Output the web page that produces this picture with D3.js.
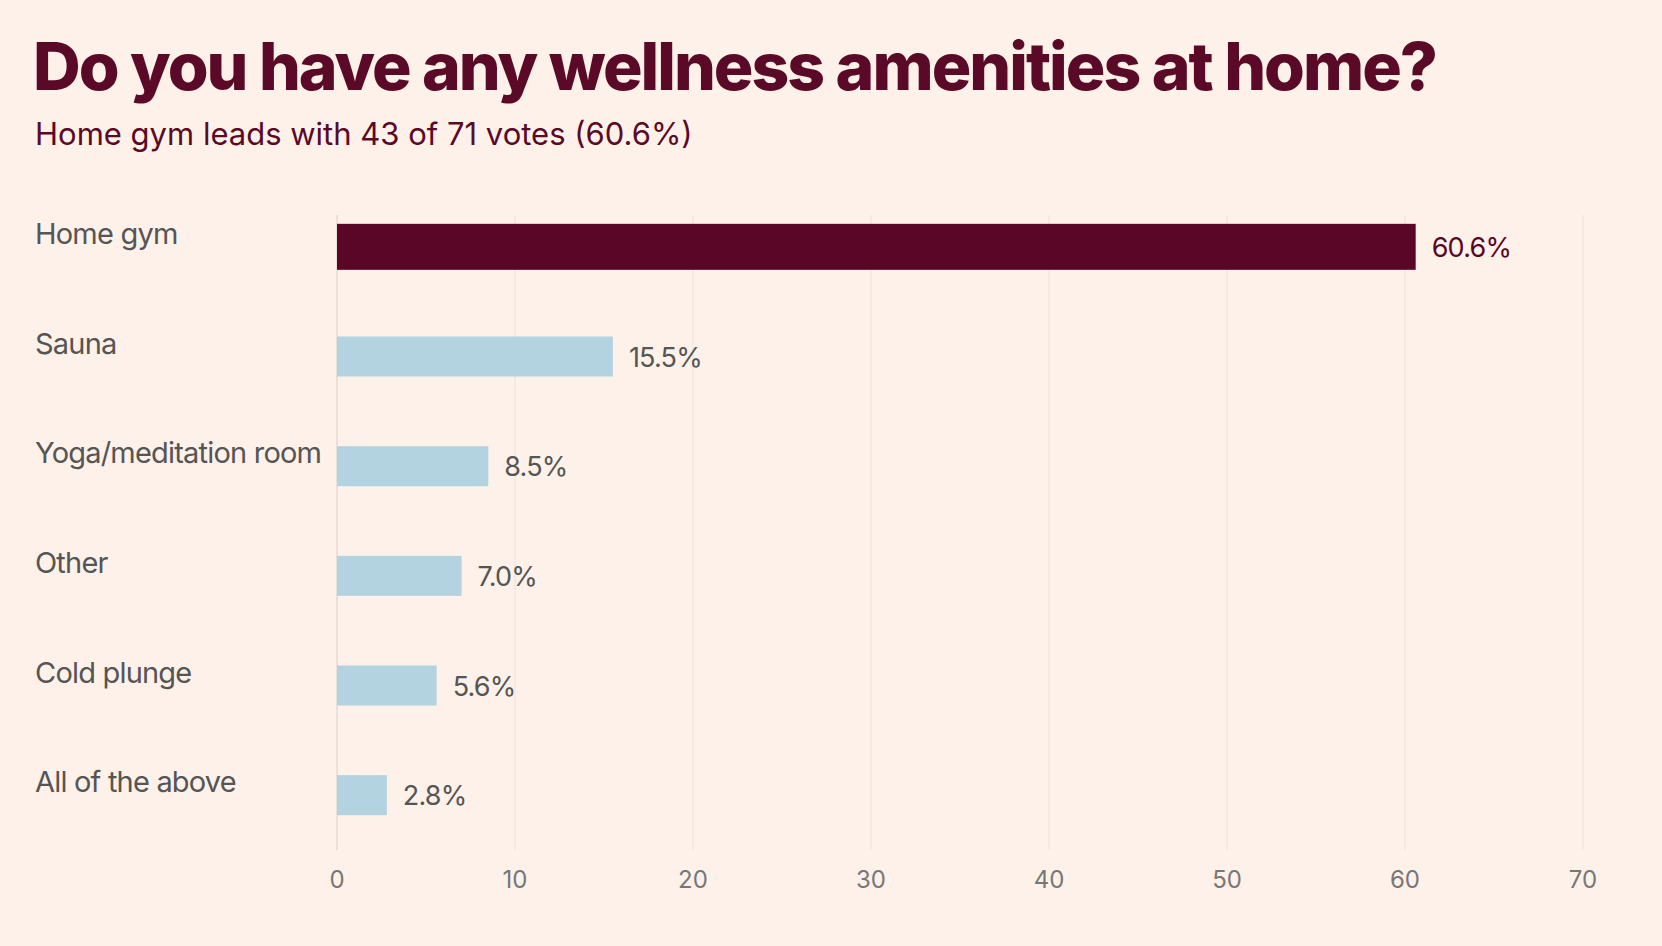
<!DOCTYPE html>
<html><head><meta charset="utf-8">
<script src="https://cdn.jsdelivr.net/npm/d3@7"></script>
<style>body{margin:0;background:#fdf1e9;}</style>
</head><body><svg></svg>
<script>
var svgWidth = 1662, svgHeight = 946;
var data = [
  {name: "Home gym", value: 60.6},
  {name: "Sauna", value: 15.5},
  {name: "Yoga/meditation room", value: 8.5},
  {name: "Other", value: 7.0},
  {name: "Cold plunge", value: 5.6},
  {name: "All of the above", value: 2.8}
];

var svg = d3.select("svg").attr("width", svgWidth).attr("height", svgHeight)
    .style("font-family", "Inter, 'Noto Sans', sans-serif");
svg.append("rect").attr("width", svgWidth).attr("height", svgHeight).attr("fill", "#fdf1e9");

svg.append("text").attr("x", 33).attr("y", 90).attr("font-size", 66).attr("font-weight", 800)
   .attr("letter-spacing", -2).attr("fill", "#5a0a26").text("Do you have any wellness amenities at home?");
svg.append("text").attr("x", 35).attr("y", 145).attr("font-size", 31)
   .attr("fill", "#5a0a26").text("Home gym leads with 43 of 71 votes (60.6%)");

var xScale = d3.scaleLinear().domain([0, 70]).range([337, 1583]);
var yScale = d3.scaleBand().domain(data.map(function(d){ return d.name; }))
    .range([192, 850]).paddingInner(0.6).paddingOuter(0.3);

// gridlines
svg.selectAll(".grid").data(d3.range(0, 71, 10)).enter().append("line")
   .attr("x1", function(d){ return xScale(d); }).attr("x2", function(d){ return xScale(d); })
   .attr("y1", 215).attr("y2", 850)
   .attr("stroke", function(d){ return d === 0 ? "#ddd5cf" : "#f1e6de"; }).attr("stroke-width", 1.2);

svg.selectAll(".tick").data(d3.range(0, 71, 10)).enter().append("text")
   .attr("x", function(d){ return xScale(d); }).attr("y", 888)
   .attr("text-anchor", "middle").attr("font-size", 24).attr("fill", "#777").text(function(d){ return d; });

var bh = 42;
svg.selectAll(".bar").data(data).enter().append("rect")
   .attr("x", xScale(0))
   .attr("y", function(d, i){ return yScale(d.name) + yScale.bandwidth()/2 - (i === 0 ? 23 : 20); })
   .attr("width", function(d){ return xScale(d.value) - xScale(0); })
   .attr("height", function(d, i){ return i === 0 ? 46 : 40; })
   .attr("fill", function(d, i){ return i === 0 ? "#5a0626" : "#b2d3df"; });

svg.selectAll(".lbl").data(data).enter().append("text")
   .attr("x", 35).attr("y", function(d){ return yScale(d.name) + yScale.bandwidth()/2 - 3; })
   .attr("font-size", 29).attr("letter-spacing", -0.8).attr("fill", "#555").text(function(d){ return d.name; });

svg.selectAll(".val").data(data).enter().append("text")
   .attr("x", function(d){ return xScale(d.value) + 16; })
   .attr("y", function(d){ return yScale(d.name) + yScale.bandwidth()/2 + 10; })
   .attr("font-size", 27).attr("letter-spacing", -0.8)
   .attr("fill", function(d, i){ return i === 0 ? "#5a0626" : "#555"; })
   .text(function(d){ return d.value.toFixed(1) + "%"; });
</script></body></html>
